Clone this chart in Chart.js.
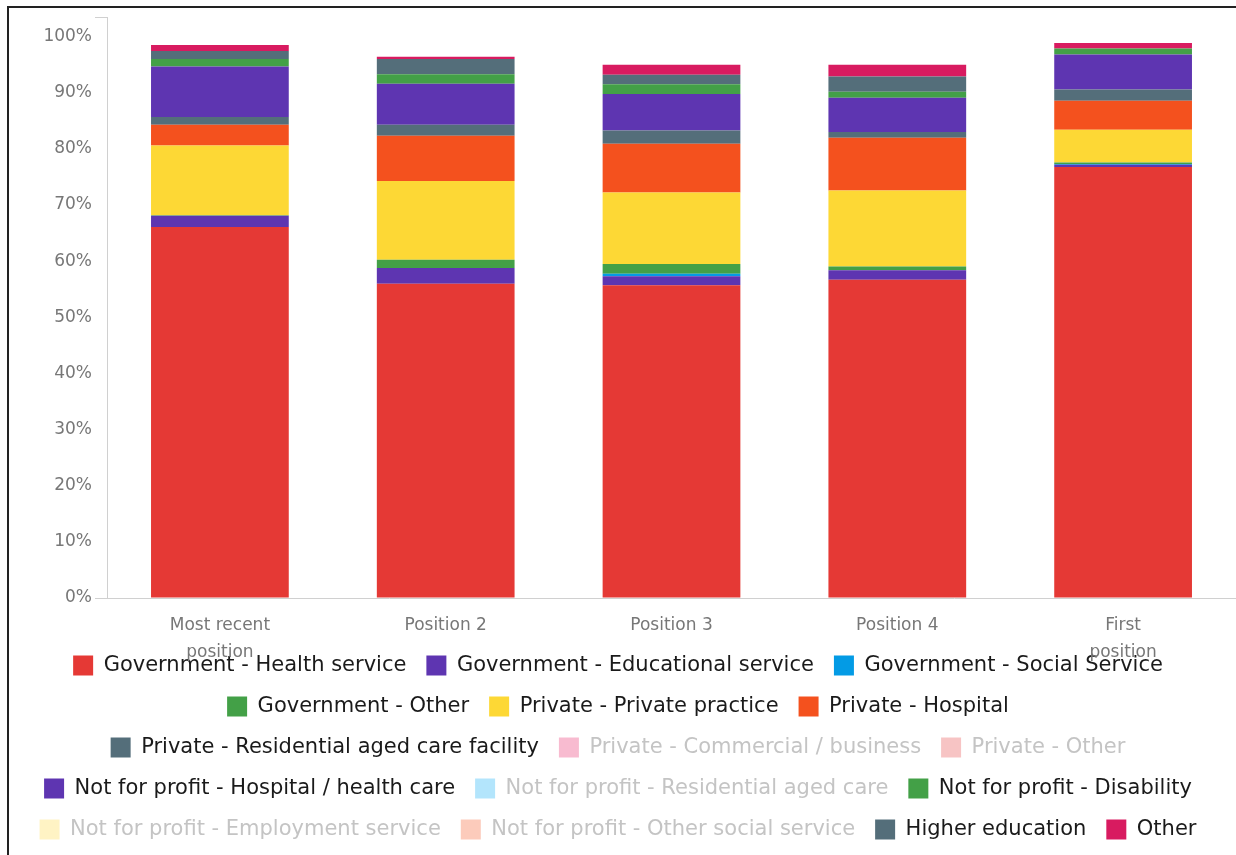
<!DOCTYPE html>
<html>
<head>
<meta charset="utf-8">
<script src="https://cdn.jsdelivr.net/npm/chart.js@4"></script>
<style>
  html, body { margin: 0; padding: 0; background: #fff; overflow: hidden; }
  #frame { position: absolute; left: 7px; top: 6px; width: 1240px; height: 860px;
           border-top: 2px solid #222; border-left: 2px solid #222; pointer-events: none; }
  #myChart { position: absolute; left: 0; top: 0; }
</style>
</head>
<body>
<canvas id="myChart" width="1236" height="850"></canvas>
<div id="frame"></div>
<script>
const labels = [
    ["Most recent", "position"],
    "Position 2",
    "Position 3",
    "Position 4",
    ["First", "position"],
];

// percentages, bottom of the stack first
const govHealth          = [66.1, 56.0, 55.7, 56.7, 76.8];
const govEducational     = [2.0, 2.8, 1.6, 1.7, 0.4];
const govSocial          = [0, 0, 0.45, 0, 0.1];
const govOther           = [0.1, 1.45, 1.75, 0.65, 0.3];
const privatePractice    = [12.4, 14.05, 12.75, 13.55, 5.8];
const privateHospital    = [3.7, 8.05, 8.65, 9.4, 5.2];
const privateResidential = [1.4, 1.95, 2.4, 1.0, 2.0];
const privateCommercial  = [0, 0, 0, 0, 0];
const privateOther       = [0, 0, 0, 0, 0];
const nfpHospital        = [9.0, 7.3, 6.5, 6.1, 6.2];
const nfpResidential     = [0, 0, 0, 0, 0];
const nfpDisability      = [1.3, 1.7, 1.7, 1.1, 1.1];
const nfpEmployment      = [0, 0, 0, 0, 0];
const nfpOtherSocial     = [0, 0, 0, 0, 0];
const higherEducation    = [1.45, 2.7, 1.7, 2.7, 0];
const otherEmployer      = [1.05, 0.4, 1.8, 2.1, 0.95];

const yTicks = [0, 10, 20, 30, 40, 50, 60, 70, 80, 90, 100];
const yMax = 103.5;

function ds(label, data, color, hidden) {
    return {
        label: label,
        data: data,
        backgroundColor: color,
        borderWidth: 0,
        hidden: !!hidden,
        barPercentage: 0.61,
        categoryPercentage: 1,
    };
}

const data = {
    labels,
    datasets: [
        ds("Government - Health service", govHealth, "#e53935"),
        ds("Government - Educational service", govEducational, "#5e35b1"),
        ds("Government - Social Service", govSocial, "#039be5"),
        ds("Government - Other", govOther, "#43a047"),
        ds("Private - Private practice", privatePractice, "#fdd835"),
        ds("Private - Hospital", privateHospital, "#f4511e"),
        ds("Private - Residential aged care facility", privateResidential, "#546e7a"),
        ds("Private - Commercial / business", privateCommercial, "#f8bbd0", true),
        ds("Private - Other", privateOther, "#f7c4c4", true),
        ds("Not for profit - Hospital / health care", nfpHospital, "#5e35b1"),
        ds("Not for profit - Residential aged care", nfpResidential, "#b3e5fc", true),
        ds("Not for profit - Disability", nfpDisability, "#43a047"),
        ds("Not for profit - Employment service", nfpEmployment, "#fff3c4", true),
        ds("Not for profit - Other social service", nfpOtherSocial, "#fccbbb", true),
        ds("Higher education", higherEducation, "#546e7a"),
        ds("Other", otherEmployer, "#d81b60"),
    ],
};

// the x labels' second line runs into the legend, as in the original;
// widen the x scale box after layout so it isn't clipped away
const labelOverflow = {
    id: "labelOverflow",
    afterLayout(chart) {
        chart.scales.x.bottom = chart.height;
    },
};

const config = {
    type: "bar",
    data: data,
    options: {
        responsive: false,
        animation: false,
        layout: { padding: { top: 17, left: 0, right: 0, bottom: 0 } },
        scales: {
            x: {
                stacked: true,
                grid: { display: false },
                border: { color: "#d0d0d0" },
                ticks: {
                    color: "#777",
                    padding: 6,
                    maxRotation: 0,
                    font: { family: "DejaVu Sans", size: 17, lineHeight: 1.6 },
                },
                afterFit(scale) { scale.height = 37; },
            },
            y: {
                stacked: true,
                min: 0,
                max: yMax,
                afterBuildTicks(scale) {
                    scale.ticks = yTicks.map(v => ({ value: v })).concat([{ value: yMax }]);
                },
                afterFit(scale) { scale.width = 107; },
                grid: {
                    drawOnChartArea: false,
                    tickLength: 12,
                    tickColor: function(ctx) {
                        const v = ctx.tick ? ctx.tick.value : null;
                        return (v === 0 || v === yMax) ? "#d0d0d0" : "rgba(0,0,0,0)";
                    },
                },
                border: { color: "#d0d0d0" },
                ticks: {
                    color: "#777",
                    padding: 3,
                    font: { family: "DejaVu Sans", size: 17 },
                    callback: v => (v <= 100 ? v + "%" : ""),
                },
            },
        },
        plugins: {
            legend: {
                position: "bottom",
                labels: {
                    color: "#1a1a1a",
                    boxWidth: 20,
                    boxHeight: 20,
                    padding: 20,
                    font: { family: "DejaVu Sans", size: 21 },
                    generateLabels(chart) {
                        return chart.data.datasets.map((d, i) => ({
                            text: d.label,
                            fillStyle: d.backgroundColor,
                            strokeStyle: d.backgroundColor,
                            lineWidth: 0,
                            hidden: false,
                            fontColor: d.hidden ? "#c4c4c4" : "#1a1a1a",
                            datasetIndex: i,
                        }));
                    },
                },
            },
            tooltip: { enabled: false },
        },
    },
    plugins: [labelOverflow],
};

const myChart = new Chart(document.getElementById("myChart"), config);
</script>
</body>
</html>
